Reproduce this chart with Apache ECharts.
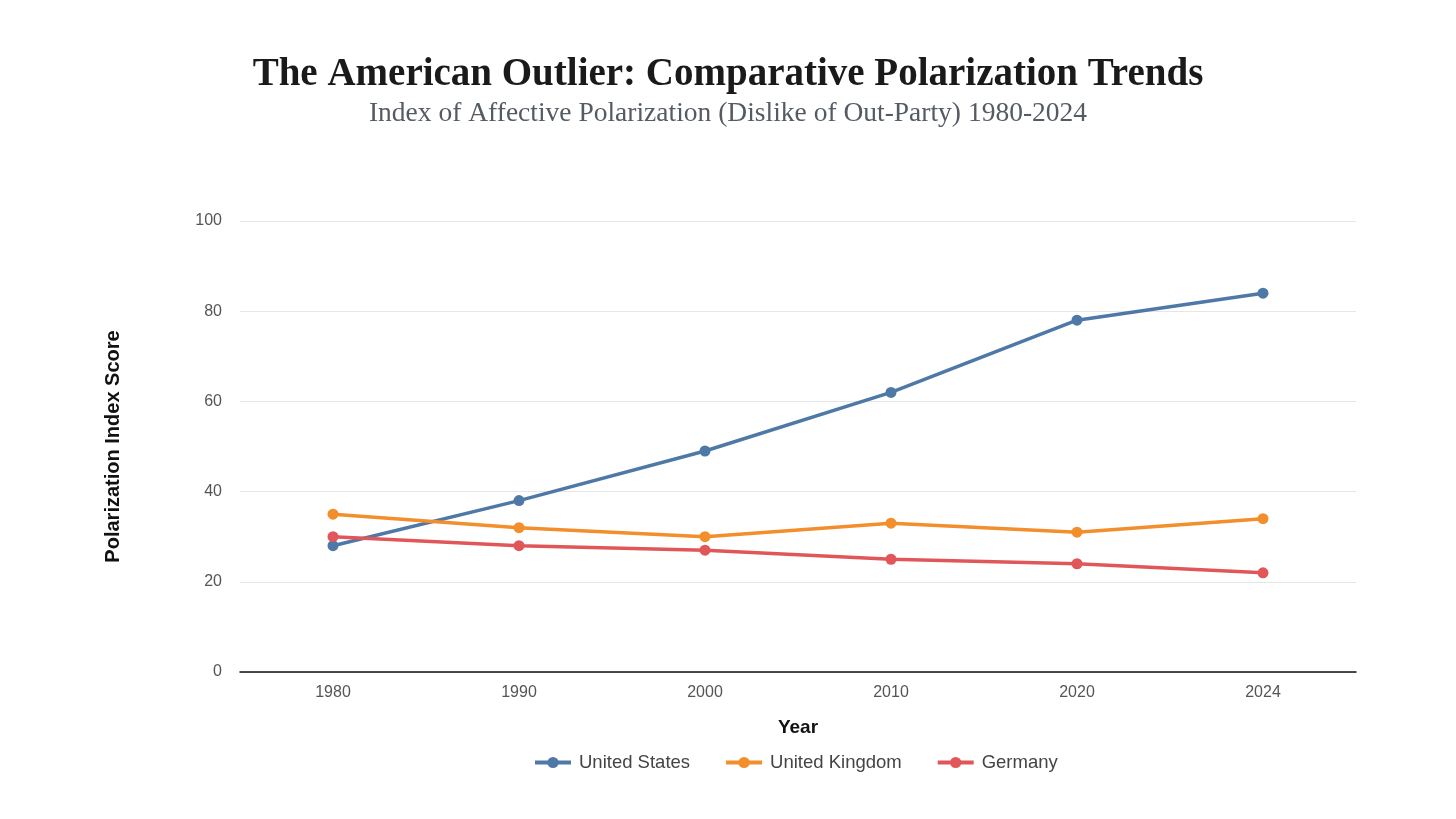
<!DOCTYPE html>
<html>
<head>
<meta charset="utf-8">
<script src="https://cdn.jsdelivr.net/npm/echarts@6/dist/echarts.min.js"></script>
<style>html,body{margin:0;padding:0;background:#fff}#c{width:1456px;height:819px}</style>
</head>
<body>
<div id="c"></div>
<script>
const years = ['1980', '1990', '2000', '2010', '2020', '2024'];
const unitedStates = [28, 38, 49, 62, 78, 84];
const unitedKingdom = [35, 32, 30, 33, 31, 34];
const germany = [30, 28, 27, 25, 24, 22];
const yTicks = [0, 20, 40, 60, 80, 100];

const chart = echarts.init(document.getElementById('c'));
function mk(name, data, color) {
  return {
    name: name, type: 'line', data: data,
    symbol: 'circle', symbolSize: 11,
    lineStyle: { width: 3.5, color: color },
    itemStyle: { color: color },
    emphasis: { disabled: true }
  };
}
chart.setOption({
  animation: false,
  backgroundColor: '#ffffff',
  title: {
    text: 'The American Outlier: Comparative Polarization Trends',
    subtext: 'Index of Affective Polarization (Dislike of Out-Party) 1980-2024',
    left: 'center', top: 50, itemGap: 6,
    textStyle: { fontFamily: 'Liberation Serif', fontWeight: 'bold', fontSize: 39, color: '#1a1a1a' },
    subtextStyle: { fontFamily: 'Liberation Serif', fontSize: 27.5, color: '#555b63' }
  },
  legend: {
    bottom: 42, left: 528, itemWidth: 36, itemHeight: 14, itemGap: 34,
    textStyle: { fontFamily: 'Liberation Sans', fontSize: 18.5, color: '#444', padding: [0, 0, 0, 3] },
    lineStyle: { width: 4 },
    data: ['United States', 'United Kingdom', 'Germany']
  },
  grid: { left: 240, right: 100, top: 221, bottom: 147 },
  xAxis: {
    type: 'category', data: years, boundaryGap: true,
    name: 'Year', nameLocation: 'middle', nameGap: 46,
    nameTextStyle: { fontFamily: 'Liberation Sans', fontWeight: 'bold', fontSize: 19, color: '#111' },
    axisLine: { lineStyle: { color: '#111', width: 1.5 } },
    axisTick: { show: false },
    axisLabel: { fontFamily: 'Liberation Sans', fontSize: 16, color: '#555', margin: 13 }
  },
  yAxis: {
    type: 'value', min: yTicks[0], max: yTicks[yTicks.length - 1], interval: 20,
    name: 'Polarization Index Score', nameLocation: 'middle', nameGap: 117, nameRotate: 90,
    nameTextStyle: { fontFamily: 'Liberation Sans', fontWeight: 'bold', fontSize: 20, color: '#111' },
    axisLine: { show: false }, axisTick: { show: false },
    axisLabel: { fontFamily: 'Liberation Sans', fontSize: 16, color: '#555', margin: 18 },
    splitLine: { lineStyle: { color: '#e6e6e6', width: 1 } }
  },
  series: [
    mk('United States', unitedStates, '#4e79a7'),
    mk('United Kingdom', unitedKingdom, '#f28e2b'),
    mk('Germany', germany, '#e15759')
  ]
});
</script>
</body>
</html>
